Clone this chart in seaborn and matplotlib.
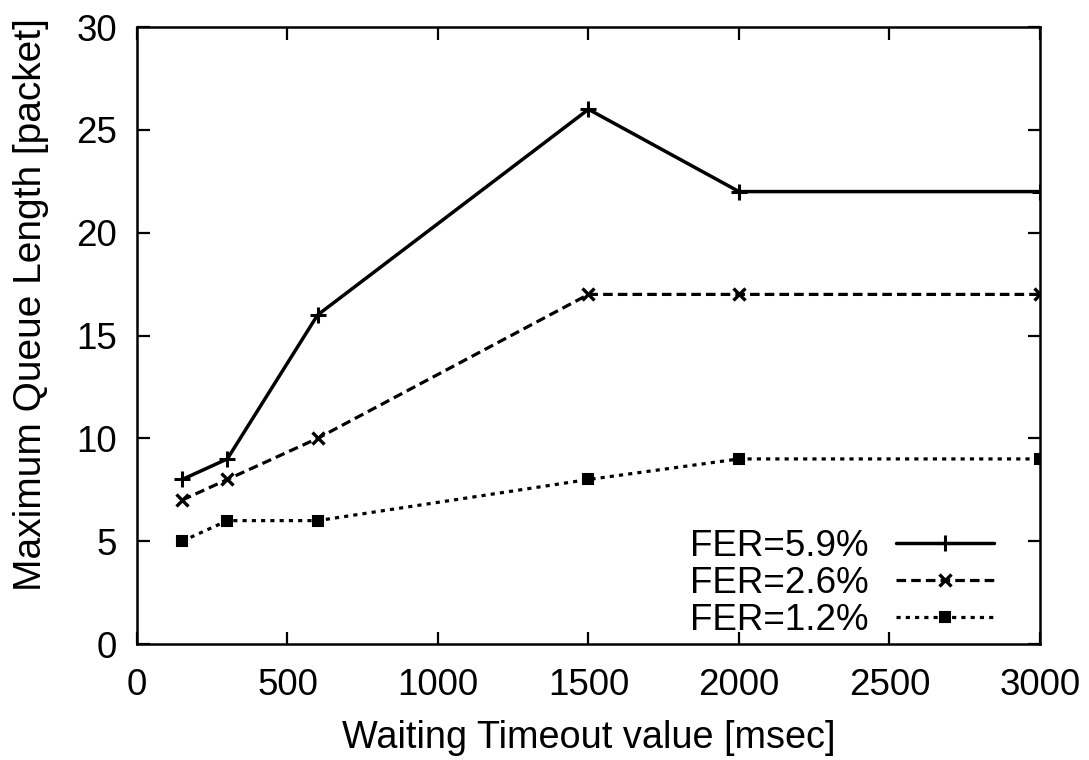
import matplotlib
matplotlib.use("Agg")
import matplotlib.pyplot as plt
import seaborn as sns
import pandas as pd

timeout_ms = [150, 300, 600, 1500, 2000, 3000]
fer_59 = [8, 9, 16, 26, 22, 22]
fer_26 = [7, 8, 10, 17, 17, 17]
fer_12 = [5, 6, 6, 8, 9, 9]
series_labels = ["FER=5.9%", "FER=2.6%", "FER=1.2%"]
x_ticks = [0, 500, 1000, 1500, 2000, 2500, 3000]
y_ticks = [0, 5, 10, 15, 20, 25, 30]

sns.set_theme(style="ticks")
plt.rcParams["font.family"] = ["Liberation Sans", "DejaVu Sans"]
plt.rcParams["text.color"] = "black"
plt.rcParams["axes.labelcolor"] = "black"

df = pd.DataFrame({
    "timeout": timeout_ms * 3,
    "queue": fer_59 + fer_26 + fer_12,
    "series": [series_labels[0]] * 6 + [series_labels[1]] * 6 + [series_labels[2]] * 6,
})

fig = plt.figure(figsize=(10.89, 7.6), dpi=100)
ax = fig.add_axes([0.1258, 0.1526, 0.8292, 0.8118])

styles = {
    series_labels[0]: dict(ls="-", marker="+", ms=12, mew=2.2, lw=2.5),
    series_labels[1]: dict(ls=(0, (3.0, 1.6)), marker="x", ms=9, mew=2.4, lw=2.3),
    series_labels[2]: dict(ls=(0, (1.3, 1.6)), marker="s", ms=7.5, mew=1.5, lw=2.3),
}

for name in series_labels:
    sub = df[df["series"] == name]
    st = styles[name]
    sns.lineplot(data=sub, x="timeout", y="queue", ax=ax, color="black",
                 linestyle=st["ls"], linewidth=st["lw"], marker=st["marker"],
                 markersize=st["ms"], markeredgewidth=st["mew"],
                 markeredgecolor="black", markerfacecolor="black",
                 label=name, errorbar=None)

ax.set_xlim(0, 3000)
ax.set_ylim(0, 30)
ax.set_xticks(x_ticks)
ax.set_yticks(y_ticks)
ax.tick_params(direction="in", length=9, width=1.6, labelsize=26.5,
               top=True, right=True, colors="black")
ax.tick_params(axis="x", pad=17.4)
ax.tick_params(axis="y", pad=14.4)
for s in ax.spines.values():
    s.set_linewidth(1.8)
    s.set_color("black")
ax.set_xlabel("Waiting Timeout value [msec]", fontsize=27.3, labelpad=12)
ax.set_ylabel("Maximum Queue Length [packet]", fontsize=28)
ax.yaxis.set_label_coords(-0.097, 0.55)

leg = ax.legend(loc="lower right", frameon=False, markerfirst=False,
                fontsize=26.5, handlelength=2.66, labelspacing=0.05,
                borderaxespad=0.5, handletextpad=0.75,
                bbox_to_anchor=(0.986, -0.044))

fig.savefig("out.png", dpi=100)
